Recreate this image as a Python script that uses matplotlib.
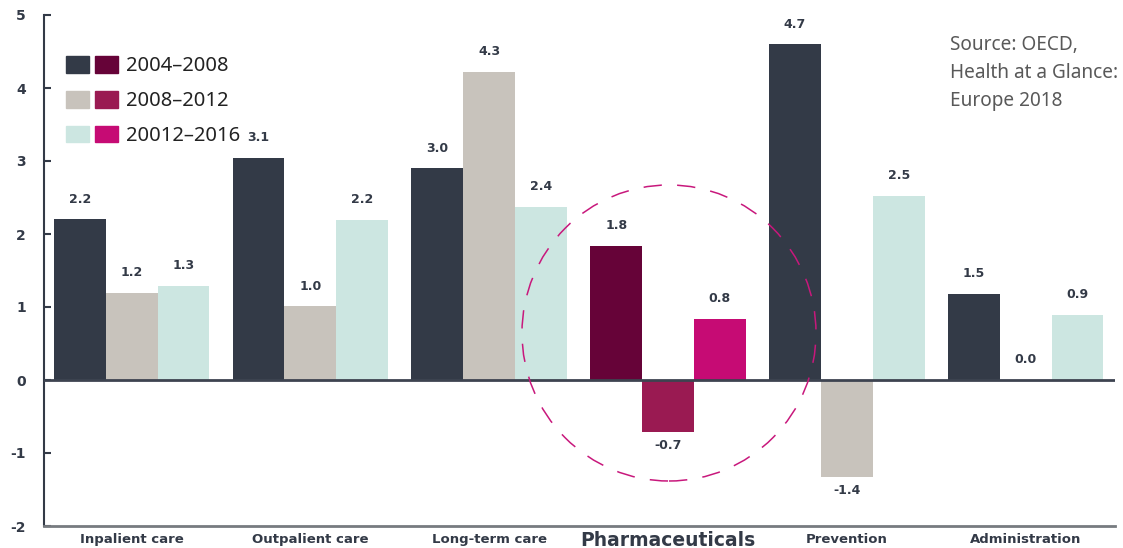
import numpy as np
import matplotlib
matplotlib.use("Agg")
import matplotlib.pyplot as plt
from matplotlib.patches import Patch, Ellipse
from matplotlib.legend_handler import HandlerTuple

# data
categories = ["Inpalient care", "Outpalient care", "Long-term care",
              "Pharmaceuticals", "Prevention", "Administration"]
periods = ["2004\u20132008", "2008\u20132012", "20012\u20132016"]
# bar heights as drawn
v_0408 = [2.2, 3.04, 2.9, 1.84, 4.6, 1.18]
v_0812 = [1.19, 1.01, 4.22, -0.71, -1.33, 0.0]
v_1216 = [1.29, 2.19, 2.37, 0.84, 2.52, 0.89]
# printed labels
l_0408 = ["2.2", "3.1", "3.0", "1.8", "4.7", "1.5"]
l_0812 = ["1.2", "1.0", "4.3", "-0.7", "-1.4", "0.0"]
l_1216 = ["1.3", "2.2", "2.4", "0.8", "2.5", "0.9"]

highlight = "Pharmaceuticals"
base_cols = ["#333a47", "#c8c3bc", "#cce6e1"]
hi_cols = ["#660338", "#9a1a52", "#c60b74"]
txt_col = "#333a47"

plt.rcParams["font.family"] = ["DejaVu Sans"]
plt.rcParams["axes.unicode_minus"] = False

fig = plt.figure(figsize=(11.23, 5.48), dpi=100)
ax = fig.add_axes([44 / 1123, 22 / 548, (1115 - 44) / 1123, (533 - 22) / 548])

x = np.arange(len(categories))
w = 0.29
series = [(v_0408, l_0408), (v_0812, l_0812), (v_1216, l_1216)]
for k, (vals, labs) in enumerate(series):
    cols = [hi_cols[k] if c == highlight else base_cols[k] for c in categories]
    xs = x + (k - 1) * w
    ax.bar(xs, vals, width=w, color=cols, zorder=2)
    for xi, v, lab in zip(xs, vals, labs):
        off = -10 if v < 0 else 14.5
        ax.annotate(lab, (xi, v), xytext=(0, off), textcoords="offset points",
                    ha="center", va="center", fontsize=9, fontweight="bold",
                    color=txt_col)

ax.axhline(0, color="#3d4350", lw=2, zorder=3)
ax.set_xlim(-0.49, 5.5)
ax.set_ylim(-2, 5)

for s in ["top", "right"]:
    ax.spines[s].set_visible(False)
ax.spines["left"].set_color(txt_col)
ax.spines["left"].set_linewidth(1.5)
ax.spines["bottom"].set_color("#777b80")
ax.spines["bottom"].set_linewidth(2)

ax.set_yticks(range(-2, 6))
ax.tick_params(axis="y", direction="in", length=5, width=1.5, color=txt_col,
               pad=13, labelsize=10, labelcolor=txt_col)
for t in ax.get_yticklabels():
    t.set_fontweight("bold")

ax.set_xticks(x)
ax.set_xticklabels(categories)
ax.tick_params(axis="x", length=0, pad=5, labelsize=9.5, labelcolor=txt_col)
for t in ax.get_xticklabels():
    t.set_fontweight("bold")
    if t.get_text() == highlight:
        t.set_fontsize(13.5)
        t.set_y(0.004)

# legend: pairs of swatches
handles = [(Patch(color=b), Patch(color=h)) for b, h in zip(base_cols, hi_cols)]
leg = ax.legend(handles, periods, handler_map={tuple: HandlerTuple(ndivide=None, pad=0.3)},
                loc="upper left", bbox_to_anchor=(66 / 1123, 1 - 56 / 548),
                bbox_transform=fig.transFigure, frameon=False, borderpad=0,
                borderaxespad=0, handlelength=2.6, handleheight=0.9,
                handletextpad=0.4, labelspacing=0.72,
                prop={"family": "Noto Sans", "size": 14.5})
for t in leg.get_texts():
    t.set_color("#222222")

fig.text(950 / 1123, 1 - 35 / 548, "Source: OECD,\nHealth at a Glance:\nEurope 2018",
         ha="left", va="top", fontsize=13.7, color="#595959",
         family="Noto Sans", linespacing=1.52)

# dashed highlight circle
fig.add_artist(Ellipse((669 / 1123, 1 - 333 / 548), 294 / 1123, 296 / 548,
                       transform=fig.transFigure, fill=False, ec="#c8187c",
                       lw=1.1, ls=(0, (12, 10)), zorder=5))

fig.savefig("out.png", dpi=100)
